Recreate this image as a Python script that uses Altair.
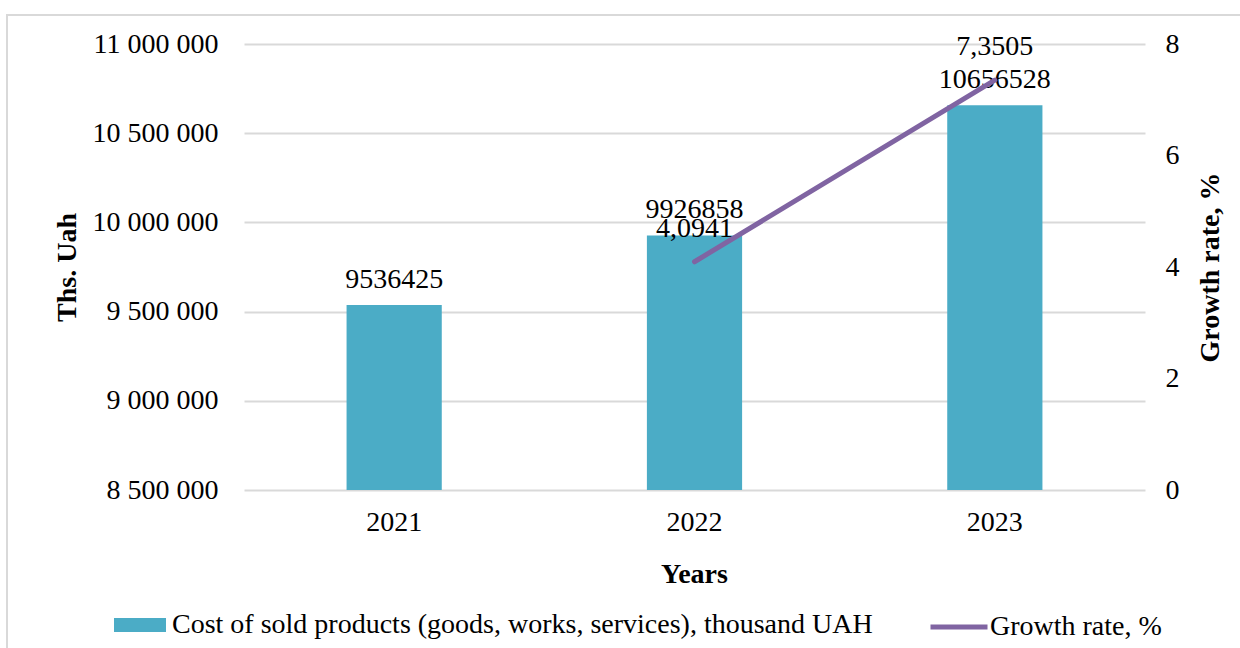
import altair as alt
import pandas as pd

years = ["2021", "2022", "2023"]
cost = [9536425, 9926858, 10656528]
growth = [None, 4.0941, 7.3505]

cost_name = "Cost of sold products (goods, works, services), thousand UAH"
growth_name = "Growth rate, %"

FONT = "Liberation Serif"
FS = 28
BAR = "#4BACC6"
LINE = "#8064A2"
GRID = "#D9D9D9"

df = pd.DataFrame({"year": years, "cost": cost, "growth": growth})
df["s1"] = cost_name
df["s2"] = growth_name

base = alt.Chart(df)

xscale = alt.Scale(paddingInner=0.683, paddingOuter=0.3415)

x_enc = alt.X(
    "year:N",
    scale=xscale,
    sort=years,
    axis=alt.Axis(
        title="Years", labelAngle=0, domain=False, ticks=False, labelPadding=18,
        titleX=450, titleY=92, titleBaseline="alphabetic", titleAlign="center",
        titleFontWeight="bold",
    ),
)

y_left = alt.Y(
    "cost:Q",
    scale=alt.Scale(domain=[8500000, 11000000], zero=False, nice=False),
    axis=alt.Axis(
        values=[8500000, 9000000, 9500000, 10000000, 10500000, 11000000],
        format=",d", grid=True, gridColor=GRID, gridWidth=2, domain=False,
        ticks=False, labelPadding=26, title="Ths. Uah", titleX=-177, titleY=223,
        titleAngle=270, titleBaseline="middle", titleAlign="center",
        titleFontWeight="bold",
    ),
)

bars = base.mark_bar(color=BAR).encode(
    x=x_enc,
    y=y_left,
    y2=alt.Y2(datum=8500000),
    color=alt.Color(
        "s1:N",
        scale=alt.Scale(range=[BAR]),
        legend=alt.Legend(
            orient="none", legendX=-130, legendY=555, title=None,
            symbolType="M-1,-0.27H1V0.27H-1Z", symbolSize=2704,
            symbolStrokeWidth=0, labelOffset=6, labelLimit=1000, padding=0,
            labelFont=FONT, labelFontSize=FS, labelColor="#000000",
        ),
    ),
)

bar_text = base.mark_text(
    baseline="alphabetic", dy=-17, font=FONT, fontSize=FS, color="#000000"
).encode(
    x=x_enc,
    y=y_left,
    text=alt.Text("cost:Q", format="d"),
)

left_layer = alt.layer(bars, bar_text)

line_base = base.transform_filter("isValid(datum.growth)")

y_right = alt.Y(
    "growth:Q",
    scale=alt.Scale(domain=[0, 8], nice=False),
    axis=alt.Axis(
        orient="right", values=[0, 2, 4, 6, 8], format="d", grid=False,
        domain=False, ticks=False, labelPadding=20, title="Growth rate, %",
        titleX=65, titleY=223, titleAngle=270, titleBaseline="middle",
        titleAlign="center", titleFontWeight="bold",
    ),
)

line = line_base.mark_line(strokeWidth=5, strokeCap="round").encode(
    x=x_enc,
    y=y_right,
    stroke=alt.Stroke(
        "s2:N",
        scale=alt.Scale(range=[LINE]),
        legend=alt.Legend(
            orient="none", legendX=684, legendY=552, title=None,
            symbolType="stroke", symbolSize=3249, symbolStrokeWidth=5,
            labelOffset=0, labelLimit=1000, padding=0,
            labelFont=FONT, labelFontSize=FS, labelColor="#000000",
        ),
    ),
)

line_text = line_base.mark_text(
    baseline="alphabetic", dy=-25, font=FONT, fontSize=FS, color="#000000"
).encode(
    x=x_enc,
    y=y_right,
    text=alt.Text("growth:Q", format=".4f"),
)

right_layer = alt.layer(line, line_text)

frame = alt.Chart(pd.DataFrame({"k": [0]})).mark_rect(
    fill=None, stroke=GRID, strokeWidth=2
).encode(
    x=alt.value(-237), x2=alt.value(1010), y=alt.value(-29), y2=alt.value(620)
)

chart = (
    alt.layer(frame, left_layer, right_layer)
    .resolve_scale(y="independent")
    .properties(
        width=901,
        height=446,
        padding={"left": 244, "top": 44, "right": 95, "bottom": 158},
        autosize=alt.AutoSizeParams(type="none"),
        background="white",
    )
    .configure(
        locale={
            "number": {
                "decimal": ",",
                "thousands": " ",
                "grouping": [3],
                "currency": ["", ""],
            }
        },
        axis={
            "labelFont": FONT, "labelFontSize": FS, "labelColor": "#000000",
            "titleFont": FONT, "titleFontSize": FS, "titleColor": "#000000",
        },
        view={"stroke": None},
    )
)

chart.save("out.html", embed_options={"renderer": "svg", "actions": False})
